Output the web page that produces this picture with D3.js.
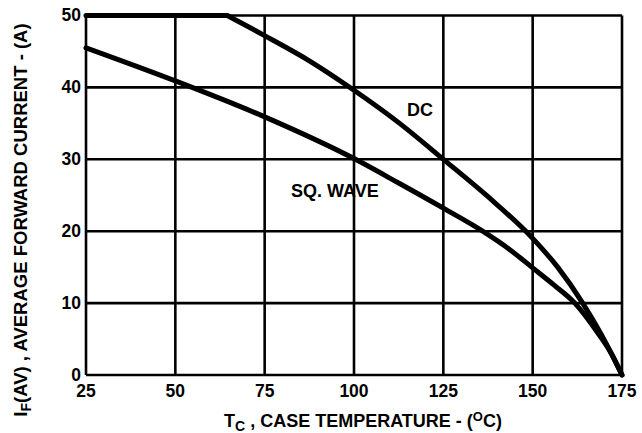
<!DOCTYPE html>
<html>
<head>
<meta charset="utf-8">
<script src="https://cdn.jsdelivr.net/npm/d3@7"></script>
<style>
  body { margin: 0; background: #fff; }
  svg text { font-family: "Liberation Sans", Arial, Helvetica, sans-serif; font-weight: bold; fill: #000; }
</style>
</head>
<body>
<div id="chart"></div>
<script>
// tick values
var xTicks = [25, 50, 75, 100, 125, 150, 175];
var yTicks = [0, 10, 20, 30, 40, 50];

// DC curve (flat at 50 up to the knee)
var dcTemp    = [25, 64.5, 75, 87.5, 100, 112.5, 125, 137.5, 150, 157, 164, 169, 172, 175];
var dcCurrent = [50, 50, 47.2, 43.7, 39.6, 35.1, 30, 24.8, 19, 15, 10, 5.8, 3, 0];

// square wave curve
var sqTemp    = [25, 50, 75, 100, 112.5, 125, 136, 143.7, 150, 156, 161.8, 168.3, 172, 175];
var sqCurrent = [45.5, 40.9, 35.9, 30.1, 26.7, 23.2, 20, 17.4, 14.9, 12.5, 10, 5.8, 3, 0];

var width = 642, height = 433,
    margins = {top: 15.5, right: 20, bottom: 58, left: 86};

var svg = d3.select("#chart").append("svg")
    .attr("width", width)
    .attr("height", height);

var x = d3.scaleLinear().domain([25, 175]).range([margins.left, width - margins.right]);
var y = d3.scaleLinear().domain([0, 50]).range([height - margins.bottom, margins.top]);

/*
 * Grid
 */
var grid = svg.append("g")
    .attr("stroke", "#000")
    .attr("stroke-width", 2.6);

grid.selectAll("line.v").data(xTicks).enter().append("line")
    .attr("class", "v")
    .attr("x1", function(d) { return x(d); })
    .attr("x2", function(d) { return x(d); })
    .attr("y1", y(0))
    .attr("y2", y(50));

grid.selectAll("line.h").data(yTicks).enter().append("line")
    .attr("class", "h")
    .attr("x1", x(25))
    .attr("x2", x(175))
    .attr("y1", function(d) { return y(d); })
    .attr("y2", function(d) { return y(d); });

/*
 * Tick labels
 */
svg.selectAll("text.xt").data(xTicks).enter().append("text")
    .attr("class", "xt")
    .attr("x", function(d) { return x(d); })
    .attr("y", y(0) + 22)
    .attr("text-anchor", "middle")
    .style("font-size", "17.5px")
    .text(function(d) { return d; });

svg.selectAll("text.yt").data(yTicks).enter().append("text")
    .attr("class", "yt")
    .attr("x", x(25) - 5)
    .attr("y", function(d) { return y(d) + 5.5; })
    .attr("text-anchor", "end")
    .style("font-size", "17.5px")
    .text(function(d) { return d; });

/*
 * Curves
 */
var straight = d3.line()
    .x(function(d) { return x(d[0]); })
    .y(function(d) { return y(d[1]); });

var smooth = d3.line()
    .x(function(d) { return x(d[0]); })
    .y(function(d) { return y(d[1]); })
    .curve(d3.curveMonotoneX);

var dc = d3.zip(dcTemp, dcCurrent);

function drawCurve(pts, gen) {
    svg.append("path")
        .datum(pts)
        .attr("fill", "none")
        .attr("stroke", "#000")
        .attr("stroke-width", 5)
        .attr("stroke-linejoin", "round")
        .attr("stroke-linecap", "round")
        .attr("d", gen);
}

drawCurve(dc.slice(0, 2), straight);
drawCurve(dc.slice(1), smooth);
drawCurve(d3.zip(sqTemp, sqCurrent), smooth);

svg.append("text")
    .attr("x", 407)
    .attr("y", 116)
    .style("font-size", "18px")
    .text("DC");

svg.append("text")
    .attr("x", 291)
    .attr("y", 197)
    .style("font-size", "18px")
    .text("SQ. WAVE");

/*
 * Axis titles
 */
var xt = svg.append("text")
    .attr("x", 363)
    .attr("y", 427)
    .attr("text-anchor", "middle")
    .style("font-size", "18px");
xt.append("tspan").text("T");
xt.append("tspan").attr("dy", 4).style("font-size", "14px").text("C");
xt.append("tspan").attr("dy", -4).text(" , CASE TEMPERATURE - (");
xt.append("tspan").attr("dy", -6).style("font-size", "13px").text("O");
xt.append("tspan").attr("dy", 6).text("C)");

var yt = svg.append("text")
    .attr("transform", "translate(27," + 220 + ") rotate(-90)")
    .attr("text-anchor", "middle")
    .style("font-size", "18.5px");
yt.append("tspan").text("I");
yt.append("tspan").attr("dy", 4).style("font-size", "14px").text("F");
yt.append("tspan").attr("dy", -4).text("(AV) , AVERAGE FORWARD CURRENT - (A)");
</script>
</body>
</html>
